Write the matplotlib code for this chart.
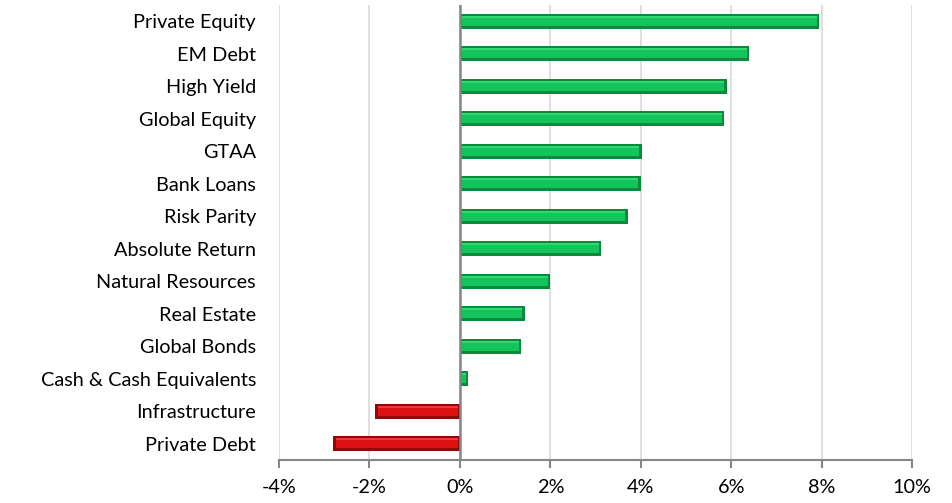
import matplotlib
matplotlib.use("Agg")
import matplotlib.pyplot as plt
import numpy as np
from matplotlib.ticker import FuncFormatter

categories = ["Private Equity", "EM Debt", "High Yield", "Global Equity", "GTAA",
              "Bank Loans", "Risk Parity", "Absolute Return", "Natural Resources",
              "Real Estate", "Global Bonds", "Cash & Cash Equivalents",
              "Infrastructure", "Private Debt"]
values = [7.95, 6.40, 5.90, 5.85, 4.02, 4.00, 3.71, 3.12, 2.00, 1.43, 1.36, 0.18, -1.87, -2.80]
xticks = [-4, -2, 0, 2, 4, 6, 8, 10]

plt.rcParams['font.family'] = ['Lato', 'DejaVu Sans']

fig = plt.figure(figsize=(9.52, 5.03), dpi=100)
ax = fig.add_axes([279/952, 1-460/503, (912-279)/952, (460-5)/503])

n = len(categories)
y = np.arange(n)
h = 0.47

for yi, v in zip(y, values):
    if v >= 0:
        dark, mid, light = "#0B8A3C", "#14C45A", "#30D975"
    else:
        dark, mid, light = "#8E0A0A", "#DD1111", "#F03A3A"
    ax.barh(yi, v, height=h, color=dark, edgecolor="none", zorder=3)
    dx = 0.05 if v >= 0 else -0.05
    inner = v - 2*dx if abs(v) > 0.15 else v
    start = dx if abs(v) > 0.15 else 0
    ax.barh(yi - 0.02, inner, left=start, height=h*0.66, color=mid, edgecolor="none", zorder=4)
    ax.barh(yi - h*0.30, inner, left=start, height=h*0.12, color=light, edgecolor="none", zorder=5)

ax.set_xlim(-4, 10)
ax.set_ylim(n - 0.5, -0.5)
ax.set_yticks(y)
ax.set_yticklabels(categories)
ax.set_xticks(xticks)
ax.xaxis.set_major_formatter(FuncFormatter(lambda v, p: f"{v:.0f}%"))

ax.grid(axis="x", color="#D9D9D9", linewidth=1.2, zorder=0)
ax.axvline(0, color="#868686", linewidth=1.8, zorder=6)
for s in ["top", "right", "left"]:
    ax.spines[s].set_visible(False)
ax.spines["bottom"].set_color("#868686")
ax.spines["bottom"].set_linewidth(1.5)
ax.tick_params(axis="y", length=0, pad=16.5, labelsize=14.3, labelcolor="#000000")
ax.tick_params(axis="x", length=6, width=1.5, color="#868686", pad=8, labelsize=14.3)

fig.savefig("out.png", dpi=100)
